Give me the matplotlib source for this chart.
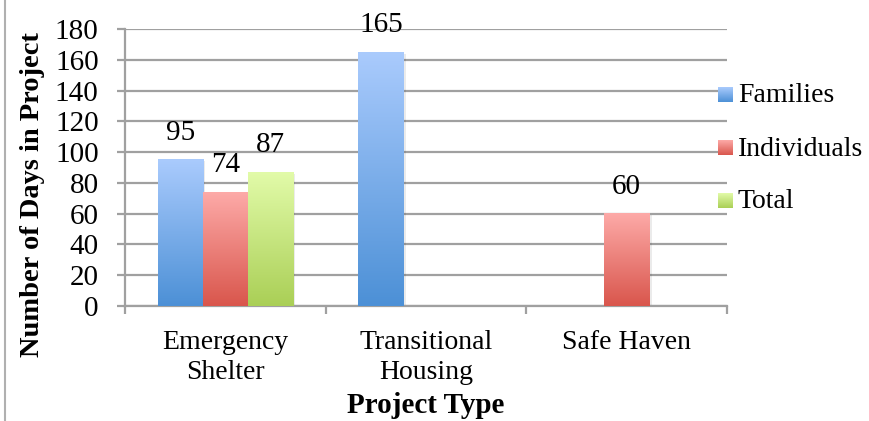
import numpy as np
import matplotlib
matplotlib.use("Agg")
import matplotlib.pyplot as plt
from matplotlib.lines import Line2D

plt.rcParams['font.family'] = ['Liberation Serif', 'DejaVu Serif']

categories = ["Emergency\nShelter", "Transitional\nHousing", "Safe Haven"]
series_names = ["Families", "Individuals", "Total"]
families = [95, 165, None]
individuals = [74, None, 60]
total = [87, None, None]
y_ticks = [0, 20, 40, 60, 80, 100, 120, 140, 160, 180]

series_values = [families, individuals, total]
# (top colour, bottom colour) for each series' vertical gradient
gradients = [("#aacbfd", "#4c90d6"), ("#fdaaa8", "#d9564c"), ("#e2fba9", "#aacf56")]

W, H = 869, 421
fig = plt.figure(figsize=(W / 100, H / 100), dpi=100)
ax = fig.add_axes([125 / W, 1 - 306 / H, (727 - 125) / W, (306 - 29) / H])

def grad_image(top, bottom, n=256):
    t = np.linspace(0, 1, n)[:, None]
    c0 = np.array(matplotlib.colors.to_rgb(top))
    c1 = np.array(matplotlib.colors.to_rgb(bottom))
    img = c0[None, None, :] * (1 - t[..., None]) + c1[None, None, :] * t[..., None]
    return img

bar_w = 0.225
offsets = [-bar_w, 0.0, bar_w]
ax.set_xlim(0, 3)
ax.set_ylim(0, 180)

for s, (vals, (top, bottom)) in enumerate(zip(series_values, gradients)):
    img = grad_image(top, bottom)
    for i, v in enumerate(vals):
        if v is None:
            continue
        x0 = i + 0.5 + offsets[s] - bar_w / 2
        x1 = x0 + bar_w
        # soft shadow behind the bar
        ax.add_patch(plt.Rectangle((x1, 0), 0.012, v - 1.0, color="#000000",
                                   alpha=0.08, lw=0, zorder=2))
        ax.imshow(img, extent=[x0, x1, 0, v], aspect="auto", origin="upper",
                  zorder=3, interpolation="bilinear")
        ax.annotate(f"{v}", xy=(x0 + bar_w / 2, v), xytext=(0, 20),
                    textcoords="offset pixels", ha="center", va="baseline",
                    fontsize=21, color="#000000", zorder=5)

ax.set_xlim(0, 3)
ax.set_ylim(0, 180)

# grid and axes styling
ax.set_yticks(y_ticks)
ax.yaxis.grid(True, color="#a0a0a0", linewidth=1.6, zorder=0)
ax.set_axisbelow(True)
for side in ["top", "right"]:
    ax.spines[side].set_visible(False)
ax.spines["left"].set_color("#a0a0a0")
ax.spines["left"].set_linewidth(1.6)
ax.spines["bottom"].set_color("#a0a0a0")
ax.spines["bottom"].set_linewidth(1.6)
ax.tick_params(axis="y", length=6, width=1.6, color="#a0a0a0", pad=13,
               labelsize=21)

ax.set_xticks([0, 1, 2, 3])
ax.set_xticklabels([])
ax.set_xticks([0.5, 1.5, 2.5], minor=True)
ax.set_xticklabels(categories, minor=True, fontsize=20, linespacing=1.3)
ax.tick_params(axis="x", which="major", length=5.5, width=1.6, color="#a0a0a0")
ax.tick_params(axis="x", which="minor", length=0, pad=17)

# axis titles
fig.text(33 / W, 1 - 195 / H, "Number of Days in Project", rotation=90,
         ha="center", va="center", fontsize=20.5, fontweight="bold")
fig.text(426 / W, 1 - 413 / H, "Project Type", ha="center", va="baseline",
         fontsize=21, fontweight="bold")

# legend drawn in pixel coordinates
lax = fig.add_axes([0, 0, 1, 1], facecolor="none")
lax.set_xlim(0, W)
lax.set_ylim(H, 0)
lax.axis("off")
legend_y = [95, 148, 201]
for name, (top, bottom), ly in zip(series_names, gradients, legend_y):
    lax.imshow(grad_image(top, bottom), extent=[718, 733, ly + 7.5, ly - 7.5],
               aspect="auto", interpolation="bilinear", zorder=3)
    lax.text(738, ly + 1, name, ha="left", va="center", fontsize=20)
lax.set_xlim(0, W)
lax.set_ylim(H, 0)

# outer frame line on the left edge
fig.add_artist(Line2D([5 / W, 5 / W], [0, 1], color="#b0b0b0", linewidth=1.5))

fig.savefig("out.png", dpi=100)
